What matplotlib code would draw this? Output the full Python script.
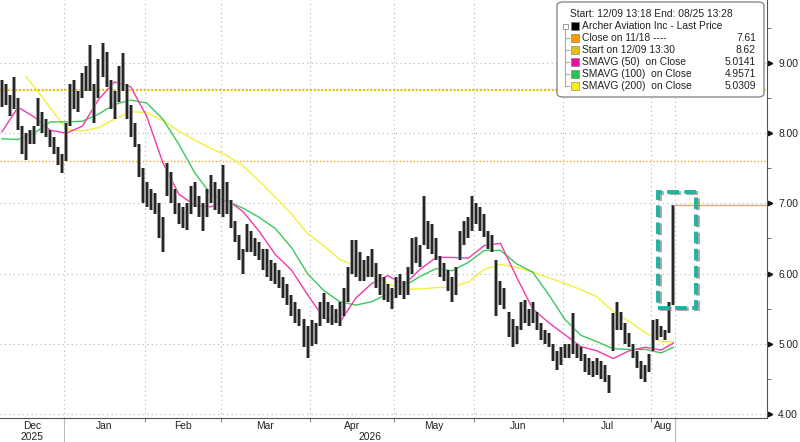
import matplotlib
matplotlib.use("Agg")
import matplotlib.pyplot as plt
import matplotlib.patheffects as pe
from matplotlib.patches import Rectangle, FancyBboxPatch
from matplotlib.transforms import blended_transform_factory, offset_copy

plt.rcParams['font.family'] = ['Liberation Sans', 'DejaVu Sans']

# --- data (one bar per trading day) ---
months = ["Dec", "Jan", "Feb", "Mar", "Apr", "May", "Jun", "Jul", "Aug"]
month_len = [16, 20, 19, 22, 21, 20, 22, 22, 6]
years = ["2025", "2026"]

highs = [
    # Dec
    8.75, 8.7, 8.55, 8.8, 8.5, 8.1, 8.0, 8.05, 8.1, 8.5, 8.3, 8.2, 8.05, 7.95, 7.8, 7.7,
    # Jan
    8.15, 8.7, 8.75, 8.6, 8.85, 8.95, 9.25, 8.7, 9.05, 9.28, 9.15, 8.75, 8.6, 8.95, 9.14,
    8.7, 8.4, 8.15, 7.85, 7.5,
    # Feb
    7.3, 7.2, 7.15, 7.0, 6.8, 7.57, 7.45, 7.2, 7.0, 6.95, 7.0, 7.25, 7.3, 7.1, 7.0, 7.2,
    7.4, 7.3, 7.2,
    # Mar
    7.55, 7.3, 7.05, 6.75, 6.55, 6.35, 6.7, 6.6, 6.5, 6.45, 6.35, 6.35, 6.2, 6.15, 6.05,
    5.95, 5.85, 5.7, 5.6, 5.5, 5.35, 5.25,
    # Apr
    5.34, 5.3, 5.6, 5.73, 5.6, 5.55, 5.5, 5.6, 5.8, 6.1, 6.48, 6.48, 6.3, 6.2, 6.25, 6.35,
    6.15, 6.0, 5.95, 5.85, 5.8,
    # May
    5.95, 6.0, 5.9, 6.1, 6.5, 6.52, 6.4, 7.1, 6.75, 6.7, 6.5, 6.25, 6.15, 6.05, 5.95, 6.1,
    6.6, 6.75, 6.8, 7.1,
    # Jun
    7.0, 6.95, 6.85, 6.6, 6.55, 6.2, 5.9, 5.8, 5.45, 5.35, 5.25, 5.6, 5.63, 5.5, 5.6, 5.45,
    5.3, 5.2, 5.15, 5.0, 4.9, 4.95,
    # Jul
    5.0, 5.0, 5.44, 5.0, 4.95, 4.85, 4.8, 4.75, 4.8, 4.75, 4.7, 4.55, 5.44, 5.6, 5.45, 5.3,
    5.15, 5.0, 4.9, 4.75, 4.7, 4.85,
    # Aug
    5.34, 5.35, 5.25, 5.2, 5.6, 6.97,
]
lows = [
    8.37, 8.4, 8.25, 8.35, 8.05, 7.7, 7.62, 7.85, 7.85, 8.1, 8.0, 7.95, 7.8, 7.7, 7.55, 7.43,
    7.6, 8.1, 8.35, 8.3, 8.5, 8.6, 8.6, 8.15, 8.5, 8.8, 8.65, 8.35, 8.2, 8.45, 8.6,
    8.2, 7.95, 7.8, 7.38, 7.0,
    6.95, 6.9, 6.85, 6.5, 6.31, 7.1, 7.0, 6.85, 6.7, 6.65, 6.62, 6.85, 6.95, 6.8, 6.6, 6.8,
    7.0, 6.9, 6.85,
    6.81, 6.85, 6.65, 6.45, 6.2, 6.0, 6.3, 6.3, 6.25, 6.2, 6.05, 5.95, 5.9, 5.85, 5.8,
    5.65, 5.55, 5.4, 5.3, 5.25, 4.95, 4.8,
    4.97, 5.0, 5.25, 5.35, 5.3, 5.27, 5.3, 5.25, 5.4, 5.6, 6.0, 5.95, 5.9, 5.9, 5.95, 5.95,
    5.8, 5.7, 5.63, 5.6, 5.5,
    5.65, 5.7, 5.64, 5.7, 6.0, 6.15, 6.1, 6.4, 6.35, 6.28, 6.2, 5.95, 5.9, 5.75, 5.6, 5.7,
    6.2, 6.4, 6.5, 6.6,
    6.7, 6.6, 6.52, 6.35, 6.3, 5.39, 5.55, 5.5, 5.1, 4.96, 5.0, 5.2, 5.3, 5.25, 5.3, 5.2,
    5.05, 5.0, 4.95, 4.75, 4.63, 4.7,
    4.8, 4.8, 4.85, 4.8, 4.75, 4.6, 4.55, 4.53, 4.55, 4.5, 4.45, 4.3, 4.9, 5.2, 5.2, 5.0,
    4.95, 4.8, 4.65, 4.5, 4.46, 4.6,
    4.9, 5.05, 5.1, 5.05, 5.15, 5.55,
]

ma_idx = [0, 4, 8, 12, 16, 20, 24, 28, 32, 36, 40, 44, 48, 52, 56, 60, 64, 68, 72, 76,
          80, 84, 88, 92, 96, 100, 104, 108, 112, 116, 120, 124, 128, 132, 136, 140,
          144, 148, 152, 156, 160, 164, 167]
sma50 = [8.02, 8.37, 8.23, 8.04, 8.0, 8.1, 8.48, 8.73, 8.66, 8.24, 7.58, 7.13, 6.97,
         6.95, 7.05, 6.88, 6.6, 6.27, 6.05, 5.7, 5.37, 5.3, 5.65, 5.86, 5.97, 5.84,
         6.06, 6.23, 6.23, 6.22, 6.4, 6.43, 5.95, 5.5, 5.3, 5.13, 4.96, 4.9, 4.79,
         4.9, 4.95, 4.91, 5.01]
sma100 = [7.92, 7.91, 8.0, 8.16, 8.16, 8.17, 8.27, 8.41, 8.47, 8.43, 8.2, 7.84, 7.43,
          7.13, 7.03, 6.93, 6.8, 6.64, 6.37, 6.0, 5.76, 5.6, 5.55, 5.6, 5.71, 5.82,
          5.96, 6.07, 6.04, 6.16, 6.33, 6.33, 6.14, 6.02, 5.7, 5.35, 5.12, 5.03, 4.93,
          4.92, 4.92, 4.87, 4.95]
sma200_idx = [6] + ma_idx[2:]
sma200 = [8.8, 8.66, 8.36, 8.06, 8.03, 8.08, 8.2, 8.31, 8.29, 8.18, 8.03, 7.9, 7.78,
          7.68, 7.53, 7.32, 7.09, 6.85, 6.57, 6.4, 6.2, 6.11, 6.01, 5.85, 5.78, 5.78,
          5.8, 5.81, 5.88, 6.06, 6.13, 6.09, 6.02, 5.94, 5.86, 5.77, 5.67, 5.46, 5.32,
          5.16, 5.03, 5.03]

close_1118 = 7.61
start_1209 = 8.62
last_price = 6.97

legend_title = "Start: 12/09 13:18 End: 08/25 13:28"
legend_names = ["Archer Aviation Inc - Last Price", "Close on 11/18 ----",
                "Start on 12/09 13:30", "SMAVG (50)  on Close",
                "SMAVG (100)  on Close", "SMAVG (200)  on Close"]
legend_vals = ["", "7.61", "8.62", "5.0141", "4.9571", "5.0309"]

# --- figure ---
W, H = 800, 442
fig = plt.figure(figsize=(8, 4.42), dpi=100)
fig.patch.set_facecolor("white")
ax = fig.add_axes([0, 24 / H, 767 / W, 418 / H])

n = len(highs)
x = list(range(n))
XMAX = 190.3

# month boundaries / centres
bounds = []
pos = -0.5
for m in month_len:
    pos += m
    bounds.append(pos)
starts = [-0.5] + bounds[:-1]
centres = [(a + b) / 2 for a, b in zip(starts, bounds)]

grid_kw = dict(color="#b4b4b4", ls=(0, (1, 3)), lw=0.8, zorder=0)
for v in range(4, 10):
    ax.axhline(v, **grid_kw)
for b in bounds:
    ax.axvline(b, **grid_kw)

# reference lines
ax.axhline(close_1118, color="#f5a330", ls=(0, (1, 1.5)), lw=1.0, zorder=1)
ax.axhline(start_1209, color="#e3c11a", ls=(0, (1, 0.7)), lw=1.6, zorder=1)
ax.plot([-0.2], [start_1209], marker=">", color="#e3c11a", ms=4, zorder=2, clip_on=False)

# moving averages
ax.plot(sma200_idx, sma200, color="#f4ef3a", lw=1.0, zorder=2)
ax.plot(ma_idx, sma100, color="#3cc85c", lw=1.0, zorder=3)
ax.plot(ma_idx, sma50, color="#f03aa8", lw=1.0, zorder=4)

# price bars
bars = ax.vlines(x, lows, highs, color="#262626", lw=1.5, zorder=5)
bars.set_path_effects([pe.Stroke(linewidth=2.6, foreground="#8c8c8c"), pe.Normal()])

# last price line
ax.hlines(last_price, x[-1], XMAX, color="#dcbc18", lw=1.0, zorder=5)

# highlight box
rect = Rectangle((163.2, 5.515), 172.6 - 163.2, 7.165 - 5.515, fill=False,
                 edgecolor="#1fb3a0", lw=2.8, ls=(0, (3, 1.4)), zorder=6)
rect.set_path_effects([pe.SimpleLineShadow(offset=(1.2, -1.2), shadow_color="#808080",
                                           alpha=0.7), pe.Normal()])
ax.add_patch(rect)

# spines / axes
for s in ["top", "left"]:
    ax.spines[s].set_visible(False)
ax.spines["right"].set_color("#555555")
ax.spines["bottom"].set_color("#555555")

ax.yaxis.tick_right()
ax.set_yticks(range(4, 10))
ax.set_yticklabels(["%.2f" % v for v in range(4, 10)])
ax.set_yticks([v + 0.5 for v in range(4, 10)], minor=True)
ax.tick_params(axis="y", which="major", length=0, pad=8, labelsize=7.4, labelcolor="#222")
ax.tick_params(axis="y", which="minor", length=3, color="#555", direction="out")
tri_tr = offset_copy(blended_transform_factory(ax.transAxes, ax.transData), fig=fig,
                     x=3, y=0, units="dots")
for v in range(4, 10):
    ax.plot([1.0], [v], marker=">", color="#111", ms=3.2, transform=tri_tr, clip_on=False)

ax.set_xticks(bounds)
ax.set_xticklabels([])
ax.set_xticks(centres, minor=True)
ax.set_xticklabels(months, minor=True)
ax.tick_params(axis="x", which="major", length=3, color="#888", direction="out")
ax.tick_params(axis="x", which="minor", length=0, pad=2.5, labelsize=7.4, labelcolor="#222")

ax.set_xlim(-0.5, XMAX)
ax.set_ylim(3.943, 9.896)

xt = blended_transform_factory(ax.transData, ax.transAxes)
for b in [bounds[0], bounds[-1]]:
    ax.plot([b, b], [0, -24 / 418], color="#bbbbbb", lw=0.8, transform=xt, clip_on=False)
ax.text(centres[0], -19 / 418, years[0], transform=xt, ha="center", va="center",
        fontsize=7.4, color="#222")
ax.text((bounds[0] + bounds[-1]) / 2, -19 / 418, years[1], transform=xt, ha="center",
        va="center", fontsize=7.4, color="#222")

# --- legend box (figure pixels) ---
def fx(px):
    return px / W

def fy(py):
    return 1 - py / H

leg = FancyBboxPatch((fx(557), fy(97)), fx(764) - fx(557), fy(2) - fy(97),
                     boxstyle="round,pad=0,rounding_size=0.008", transform=fig.transFigure,
                     facecolor="white", edgecolor="#8a8a8a", lw=1.0, zorder=10)
fig.patches.append(leg)
fig.text(fx(570), fy(14), legend_title, fontsize=7.4, color="#222", va="center", zorder=11)

leg_colors = ["#000000", "#f59a00", "#e3c11a", "#e6119c", "#2dbf4f", "#f7ef1c"]
rows = [26, 38, 50, 62, 74, 86]
fig.lines.append(plt.Line2D([fx(565), fx(565)], [fy(29), fy(86)], color="#aaaaaa",
                            lw=0.8, transform=fig.transFigure, zorder=11))
for r in rows[1:]:
    fig.lines.append(plt.Line2D([fx(565), fx(569)], [fy(r), fy(r)], color="#aaaaaa",
                                lw=0.8, transform=fig.transFigure, zorder=11))
fig.patches.append(Rectangle((fx(562.5), fy(28.5)), fx(5), 5 / H, transform=fig.transFigure,
                             facecolor="white", edgecolor="#999999", lw=0.7, zorder=11))
for r, name, val, c in zip(rows, legend_names, legend_vals, leg_colors):
    fig.patches.append(Rectangle((fx(570.5), fy(r + 4)), fx(8), 8 / H,
                                 transform=fig.transFigure, facecolor=c,
                                 edgecolor="#777777", lw=0.4, zorder=11))
    fig.text(fx(582), fy(r), name, fontsize=7.4, color="#222", va="center", zorder=11)
    if val:
        fig.text(fx(756), fy(r), val, fontsize=7.4, color="#222", va="center", ha="right",
                 zorder=11)

fig.savefig("out.png", dpi=100)
